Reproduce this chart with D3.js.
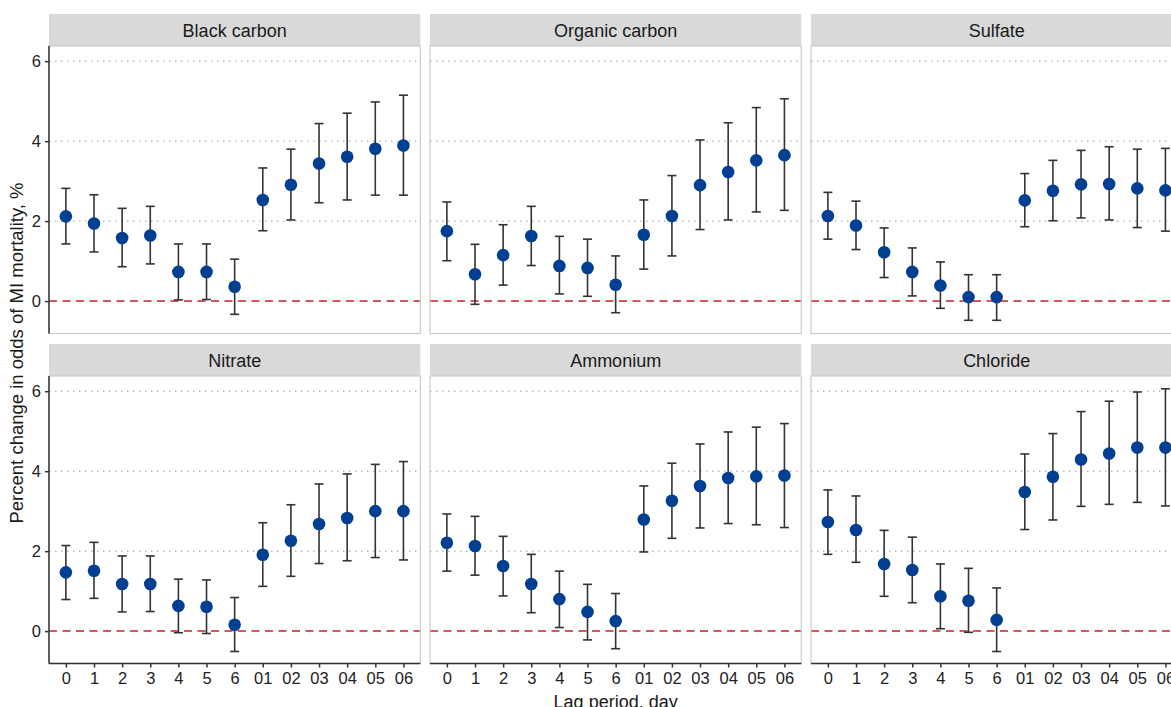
<!doctype html>
<html>
<body>
<style type="text/css">
    html,body{
        margin: 0;
        overflow: hidden;
        background: #fff;
    }
    text { font-family: "Liberation Sans", Arial, sans-serif; }
    .axis path, .axis line { stroke: #333; stroke-width: 1.5; }
</style>
<script src="https://cdn.jsdelivr.net/npm/d3@7"></script>
<script type="text/javascript">
// lag labels on the x axis
var lags = ["0","1","2","3","4","5","6","01","02","03","04","05","06"];
var pollutants = ["Black carbon","Organic carbon","Sulfate","Nitrate","Ammonium","Chloride"];
var yTicks = [0, 2, 4, 6];

// point estimates and 95% CI per pollutant (percent change)
var bcEst = [2.12,1.94,1.58,1.64,0.73,0.73,0.36,2.53,2.91,3.44,3.61,3.81,3.89];
var bcLo  = [1.43,1.23,0.86,0.93,0.03,0.04,-0.33,1.76,2.03,2.46,2.53,2.65,2.65];
var bcHi  = [2.82,2.66,2.32,2.37,1.43,1.43,1.05,3.33,3.80,4.44,4.70,4.98,5.15];

var ocEst = [1.75,0.67,1.15,1.63,0.88,0.83,0.41,1.66,2.13,2.90,3.23,3.52,3.65];
var ocLo  = [1.01,-0.08,0.40,0.89,0.18,0.12,-0.29,0.80,1.13,1.79,2.03,2.23,2.27];
var ocHi  = [2.48,1.42,1.91,2.37,1.62,1.55,1.13,2.53,3.14,4.03,4.46,4.84,5.06];

var suEst = [2.13,1.89,1.22,0.73,0.39,0.10,0.10,2.52,2.76,2.92,2.93,2.82,2.77];
var suLo  = [1.55,1.29,0.59,0.13,-0.18,-0.48,-0.48,1.86,2.01,2.08,2.03,1.84,1.75];
var suHi  = [2.72,2.50,1.83,1.33,0.98,0.66,0.66,3.19,3.52,3.77,3.86,3.80,3.82];

var niEst = [1.47,1.51,1.18,1.18,0.63,0.61,0.16,1.91,2.26,2.68,2.83,3.00,3.00];
var niLo  = [0.79,0.82,0.48,0.49,-0.04,-0.06,-0.51,1.12,1.37,1.69,1.76,1.84,1.78];
var niHi  = [2.14,2.22,1.88,1.88,1.30,1.28,0.84,2.71,3.16,3.68,3.93,4.17,4.24];

var amEst = [2.21,2.13,1.63,1.18,0.80,0.48,0.25,2.79,3.26,3.63,3.83,3.87,3.89];
var amLo  = [1.50,1.40,0.88,0.46,0.09,-0.22,-0.44,1.98,2.32,2.58,2.69,2.66,2.59];
var amHi  = [2.93,2.87,2.37,1.92,1.50,1.17,0.94,3.63,4.20,4.68,4.98,5.10,5.19];

var clEst = [2.73,2.53,1.68,1.53,0.87,0.76,0.28,3.48,3.86,4.29,4.44,4.59,4.59];
var clLo  = [1.92,1.72,0.87,0.71,0.06,-0.03,-0.51,2.54,2.78,3.12,3.17,3.22,3.13];
var clHi  = [3.53,3.38,2.52,2.35,1.68,1.57,1.08,4.43,4.94,5.49,5.75,5.98,6.06];

(function(){
    var w = 1171, h = 707;
    var est = [bcEst, ocEst, suEst, niEst, amEst, clEst],
        lo  = [bcLo, ocLo, suLo, niLo, amLo, clLo],
        hi  = [bcHi, ocHi, suHi, niHi, amHi, clHi];

    var left = 49, panelW = 371.3, gap = 9.7,
        rowTop = [14, 344], stripH = 32, plotH = 287.5;

    var svg = d3.select("body").append("svg")
        .attr("width", w)
        .attr("height", h);

    var x = d3.scalePoint().domain(lags).range([0, panelW]).padding(0.6);
    var y = d3.scaleLinear().domain([-0.81, 6.38]).range([plotH, 0]);

    pollutants.forEach(function(name, i){
        var col = i % 3, row = Math.floor(i / 3);
        var px = left + col * (panelW + gap),
            py = rowTop[row];

        var g = svg.append("g").attr("transform", "translate(" + px + "," + py + ")");

        // strip
        g.append("rect")
            .attr("width", panelW).attr("height", stripH)
            .attr("fill", "#d9d9d9");
        g.append("text")
            .attr("x", panelW / 2).attr("y", stripH / 2 + 6.5)
            .attr("text-anchor", "middle")
            .style("font-size", "18px").attr("fill", "#1a1a1a")
            .text(name);

        var p = g.append("g").attr("transform", "translate(0," + stripH + ")");

        // dotted grid
        p.selectAll("line.grid").data(yTicks.filter(function(t){ return t !== 0; }))
            .enter().append("line")
            .attr("class", "grid")
            .attr("x1", 0).attr("x2", panelW)
            .attr("y1", function(d){ return y(d); })
            .attr("y2", function(d){ return y(d); })
            .attr("stroke", "#bdbdbd").attr("stroke-width", 1.5)
            .attr("stroke-dasharray", "1.5,4.5");

        // reference line at zero
        p.append("line")
            .attr("x1", 0).attr("x2", panelW)
            .attr("y1", y(0)).attr("y2", y(0))
            .attr("stroke", "#c3242b").attr("stroke-width", 1.5)
            .attr("stroke-dasharray", "8,5.5");

        var d = lags.map(function(l, k){
            return {lag: l, est: est[i][k], lo: lo[i][k], hi: hi[i][k]};
        });

        // error bars
        var eb = p.selectAll("g.eb").data(d).enter().append("g")
            .attr("stroke", "#333").attr("stroke-width", 1.6);
        eb.append("line")
            .attr("x1", function(d){ return x(d.lag); })
            .attr("x2", function(d){ return x(d.lag); })
            .attr("y1", function(d){ return y(d.lo); })
            .attr("y2", function(d){ return y(d.hi); });
        eb.append("line")
            .attr("x1", function(d){ return x(d.lag) - 4.5; })
            .attr("x2", function(d){ return x(d.lag) + 4.5; })
            .attr("y1", function(d){ return y(d.lo); })
            .attr("y2", function(d){ return y(d.lo); });
        eb.append("line")
            .attr("x1", function(d){ return x(d.lag) - 4.5; })
            .attr("x2", function(d){ return x(d.lag) + 4.5; })
            .attr("y1", function(d){ return y(d.hi); })
            .attr("y2", function(d){ return y(d.hi); });

        // points
        p.selectAll("circle").data(d).enter().append("circle")
            .attr("cx", function(d){ return x(d.lag); })
            .attr("cy", function(d){ return y(d.est); })
            .attr("r", 6.3)
            .attr("fill", "#003f91");

        // panel border
        p.append("rect")
            .attr("width", panelW).attr("height", plotH)
            .attr("fill", "none")
            .attr("stroke", "#cccccc").attr("stroke-width", 1.2);

        if (col === 0) {
            var ya = p.append("g").attr("class", "axis")
                .call(d3.axisLeft(y).tickValues(yTicks).tickSize(4).tickPadding(4).tickFormat(d3.format("d")));
            ya.select(".domain").attr("d", "M0,0V" + plotH);
            ya.selectAll("text").style("font-size", "16.5px").attr("fill", "#222")
                .style("font-family", "'Liberation Sans', Arial, sans-serif");
        }
        if (row === 1) {
            var xa = p.append("g").attr("class", "axis")
                .attr("transform", "translate(0," + plotH + ")")
                .call(d3.axisBottom(x).tickSize(4).tickPadding(5));
            xa.select(".domain").attr("d", "M0,0H" + panelW);
            xa.selectAll("text").style("font-size", "16.5px").attr("fill", "#222")
                .style("font-family", "'Liberation Sans', Arial, sans-serif");
        }
    });

    // axis titles
    svg.append("text")
        .attr("transform", "translate(23,353) rotate(-90)")
        .attr("text-anchor", "middle")
        .style("font-size", "18.5px").attr("fill", "#1a1a1a")
        .text("Percent change in odds of MI mortality, %");

    svg.append("text")
        .attr("x", left + (3 * panelW + 2 * gap) / 2).attr("y", 708)
        .attr("text-anchor", "middle")
        .style("font-size", "18px").attr("fill", "#1a1a1a")
        .text("Lag period, day");
})();
</script>
</body>
</html>
